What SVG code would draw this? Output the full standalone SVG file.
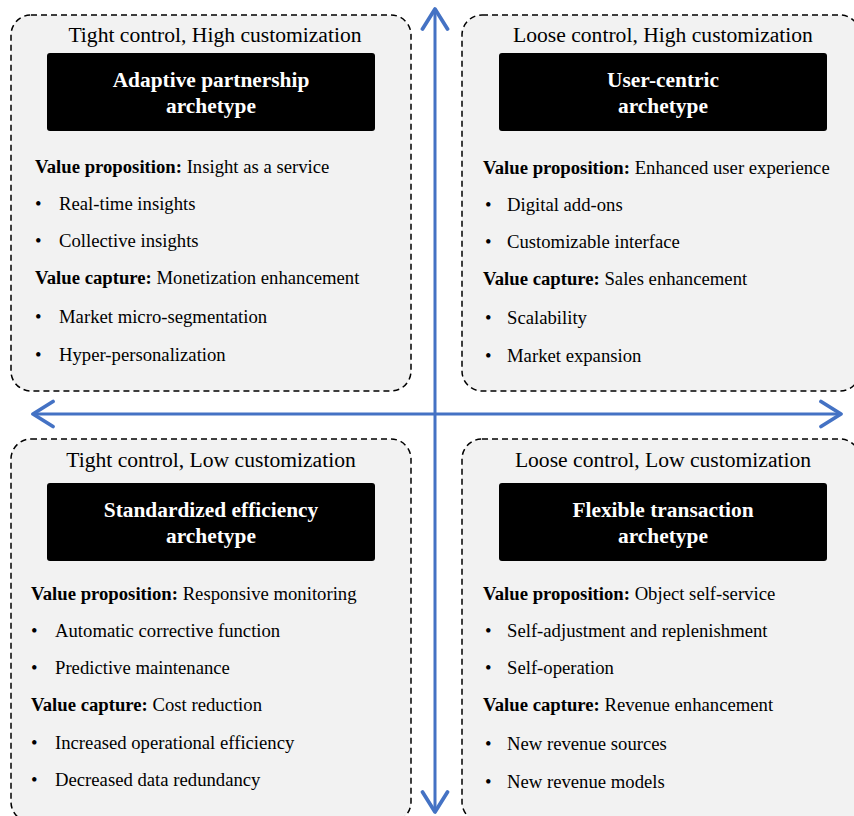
<svg xmlns="http://www.w3.org/2000/svg" width="854" height="816" viewBox="0 0 854 816">
  <defs>
    <style>
      .panel { fill: #f2f2f2; stroke: #000; stroke-width: 1.5; stroke-dasharray: 6 4; }
      .title-box { fill: #000; }
      .head { font-family: "Liberation Serif", "Times New Roman", serif; font-size: 21.6px; fill: #000; text-anchor: middle; }
      .title { font-family: "Liberation Serif", "Times New Roman", serif; font-size: 21.4px; font-weight: bold; fill: #fff; text-anchor: middle; }
      .body { font-family: "Liberation Serif", "Times New Roman", serif; font-size: 18.7px; fill: #000; }
      .body tspan.b { font-weight: bold; }
      .axis { stroke: #4472c4; stroke-width: 3; fill: none; }
    </style>
    <marker id="chev" viewBox="0 0 12 12" refX="10" refY="6" markerWidth="10" markerHeight="10" orient="auto" markerUnits="strokeWidth">
      <path d="M2,1 L10,6 L2,11" fill="none" stroke="#4472c4" stroke-width="1.5" stroke-linecap="round" stroke-linejoin="round"/>
    </marker>
  </defs>
  <rect width="854" height="816" fill="#fff"/>

  <!-- Top-left quadrant -->
  <g id="adaptive-partnership">
    <rect class="panel" x="11" y="15" width="400" height="376" rx="20"/>
    <text class="head" x="215" y="42">Tight control, High customization</text>
    <rect class="title-box" x="47" y="53" width="328" height="78" rx="3"/>
    <text class="title" x="211" y="87">Adaptive partnership</text>
    <text class="title" x="211" y="113">archetype</text>
    <text class="body" x="35" y="173"><tspan class="b">Value proposition:</tspan> Insight as a service</text>
    <text class="body" x="35" y="210">•</text><text class="body" x="59" y="210">Real-time insights</text>
    <text class="body" x="35" y="247">•</text><text class="body" x="59" y="247">Collective insights</text>
    <text class="body" x="35" y="284"><tspan class="b">Value capture:</tspan> Monetization enhancement</text>
    <text class="body" x="35" y="323">•</text><text class="body" x="59" y="323">Market micro-segmentation</text>
    <text class="body" x="35" y="361">•</text><text class="body" x="59" y="361">Hyper-personalization</text>
  </g>

  <!-- Top-right quadrant -->
  <g id="user-centric">
    <rect class="panel" x="462" y="15" width="398" height="376" rx="20"/>
    <text class="head" x="663" y="42">Loose control, High customization</text>
    <rect class="title-box" x="499" y="53" width="328" height="78" rx="3"/>
    <text class="title" x="663" y="87">User-centric</text>
    <text class="title" x="663" y="113">archetype</text>
    <text class="body" x="483" y="174"><tspan class="b">Value proposition:</tspan> Enhanced user experience</text>
    <text class="body" x="485" y="211">•</text><text class="body" x="507" y="211">Digital add-ons</text>
    <text class="body" x="485" y="248">•</text><text class="body" x="507" y="248">Customizable interface</text>
    <text class="body" x="483" y="285"><tspan class="b">Value capture:</tspan> Sales enhancement</text>
    <text class="body" x="485" y="324">•</text><text class="body" x="507" y="324">Scalability</text>
    <text class="body" x="485" y="362">•</text><text class="body" x="507" y="362">Market expansion</text>
  </g>

  <!-- Bottom-left quadrant -->
  <g id="standardized-efficiency">
    <rect class="panel" x="11" y="439" width="400" height="383" rx="20"/>
    <text class="head" x="211" y="467">Tight control, Low customization</text>
    <rect class="title-box" x="47" y="483" width="328" height="78" rx="3"/>
    <text class="title" x="211" y="517">Standardized efficiency</text>
    <text class="title" x="211" y="543">archetype</text>
    <text class="body" x="31" y="600"><tspan class="b">Value proposition:</tspan> Responsive monitoring</text>
    <text class="body" x="31" y="637">•</text><text class="body" x="55" y="637">Automatic corrective function</text>
    <text class="body" x="31" y="674">•</text><text class="body" x="55" y="674">Predictive maintenance</text>
    <text class="body" x="31" y="711"><tspan class="b">Value capture:</tspan> Cost reduction</text>
    <text class="body" x="31" y="749">•</text><text class="body" x="55" y="749">Increased operational efficiency</text>
    <text class="body" x="31" y="786">•</text><text class="body" x="55" y="786">Decreased data redundancy</text>
  </g>

  <!-- Bottom-right quadrant -->
  <g id="flexible-transaction">
    <rect class="panel" x="462" y="439" width="398" height="383" rx="20"/>
    <text class="head" x="663" y="467">Loose control, Low customization</text>
    <rect class="title-box" x="499" y="483" width="328" height="78" rx="3"/>
    <text class="title" x="663" y="517">Flexible transaction</text>
    <text class="title" x="663" y="543">archetype</text>
    <text class="body" x="483" y="600"><tspan class="b">Value proposition:</tspan> Object self-service</text>
    <text class="body" x="485" y="637">•</text><text class="body" x="507" y="637">Self-adjustment and replenishment</text>
    <text class="body" x="485" y="674">•</text><text class="body" x="507" y="674">Self-operation</text>
    <text class="body" x="483" y="711"><tspan class="b">Value capture:</tspan> Revenue enhancement</text>
    <text class="body" x="485" y="750">•</text><text class="body" x="507" y="750">New revenue sources</text>
    <text class="body" x="485" y="788">•</text><text class="body" x="507" y="788">New revenue models</text>
  </g>

  <!-- Axes -->
  <g id="axes">
    <line class="axis" x1="435" y1="414" x2="435" y2="9" marker-end="url(#chev)"/>
    <line class="axis" x1="435" y1="414" x2="435" y2="812" marker-end="url(#chev)"/>
    <line class="axis" x1="435" y1="414" x2="33" y2="414" marker-end="url(#chev)"/>
    <line class="axis" x1="435" y1="414" x2="841" y2="414" marker-end="url(#chev)"/>
  </g>
</svg>
